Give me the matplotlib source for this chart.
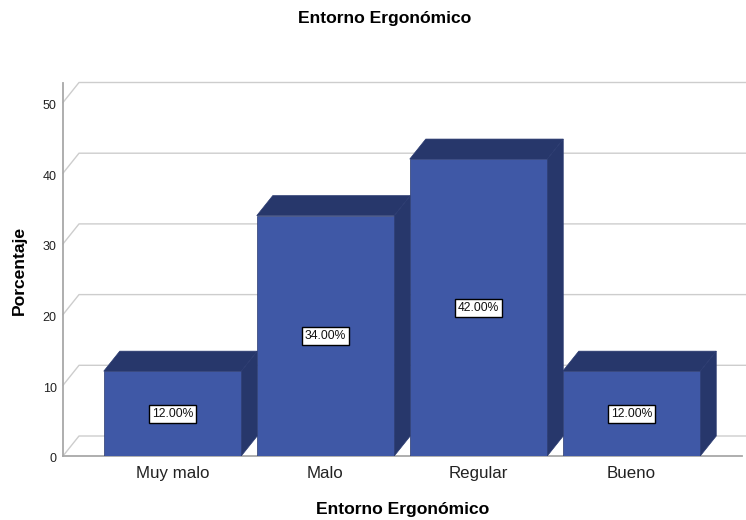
import matplotlib
matplotlib.use("Agg")
import matplotlib.pyplot as plt
from matplotlib.patches import Polygon
from matplotlib.transforms import ScaledTranslation

CATEGORIES = ["Muy malo", "Malo", "Regular", "Bueno"]
PERCENTS = [12, 34, 42, 12]
BAR_LABELS = ["12.00%", "34.00%", "42.00%", "12.00%"]
Y_TICKS = [0, 10, 20, 30, 40, 50]

W, H = 746, 520
PX_X = 153.0   # pixels per category
PX_Y = 7.07    # pixels per percent
DX = 16 / PX_X  # 3d depth in data units
DY = 20 / PX_Y
BAR_W = 137.5 / PX_X
FRONT = "#3F58A6"
DARK = "#27376B"
EDGE = "#2A3A70"
GRID = "#CDCDCD"
AXIS = "#A8A8A8"
TXT = "#222222"

plt.rcParams["font.family"] = ["Liberation Sans", "DejaVu Sans"]

fig = plt.figure(figsize=(W / 100, H / 100), dpi=100)
left, bottom, top = 63, 456, 83
ax = fig.add_axes([left / W, (H - bottom) / H, (W - left) / W, (bottom - top) / H])
ax.set_xlim(-(172.5 - left) / PX_X, (W - 172.5) / PX_X)
ax.set_ylim(0, (bottom - top) / PX_Y)
for s in ax.spines.values():
    s.set_visible(False)
x0 = ax.get_xlim()[0]
x1 = ax.get_xlim()[1]

# back wall gridlines and the slanted bits on the side wall
for t in Y_TICKS:
    ax.plot([x0, x0 + DX, x1], [t, t + DY, t + DY], color=GRID, lw=1.0, zorder=1, clip_on=False)

ax.plot([x0, x0], [0, ax.get_ylim()[1]], color=AXIS, lw=1.3, zorder=2, clip_on=False)
ax.plot([x0, (742 - 172.5) / PX_X], [0, 0], color=AXIS, lw=1.3, zorder=2, clip_on=False)

xs = list(range(len(CATEGORIES)))
ax.bar(xs, PERCENTS, width=BAR_W, color=FRONT, edgecolor=EDGE, lw=0.5, zorder=4)
for x, v, lab in zip(xs, PERCENTS, BAR_LABELS):
    l, r = x - BAR_W / 2, x + BAR_W / 2
    ax.add_patch(Polygon([(l, v), (l + DX, v + DY), (r + DX, v + DY), (r, v)],
                         fc=DARK, ec=EDGE, lw=0.5, zorder=3))
    ax.add_patch(Polygon([(r, 0), (r + DX, DY), (r + DX, v + DY), (r, v)],
                         fc=DARK, ec=EDGE, lw=0.5, zorder=3))
    ax.text(x, v / 2, lab, ha="center", va="center", fontsize=8.7, color="#111111", zorder=6,
            bbox=dict(boxstyle="square,pad=0.25", fc="white", ec="black", lw=1))

ax.set_xticks(xs, CATEGORIES, fontsize=12.2, color=TXT)
ax.set_yticks(Y_TICKS, [str(t) for t in Y_TICKS], fontsize=9, color=TXT)
ax.tick_params(axis="x", length=0, pad=7)
ax.tick_params(axis="y", length=0, pad=4.5)
# SPSS puts the value labels a little below the gridline start
shift = ScaledTranslation(0, -2 / 100, fig.dpi_scale_trans)
for lbl in ax.get_yticklabels():
    lbl.set_transform(lbl.get_transform() + shift)

fig.text(384.5 / W, 1 - 18.5 / H, "Entorno Ergonómico", ha="center", va="center",
         fontsize=12.6, fontweight="bold", color="black")
fig.text(402.5 / W, 1 - 509.5 / H, "Entorno Ergonómico", ha="center", va="center",
         fontsize=12.6, fontweight="bold", color="black")
fig.text(19 / W, 1 - 270 / H, "Porcentaje", rotation=90, ha="center", va="center",
         fontsize=12.6, fontweight="bold", color="black")

fig.savefig("out.png", dpi=100)
